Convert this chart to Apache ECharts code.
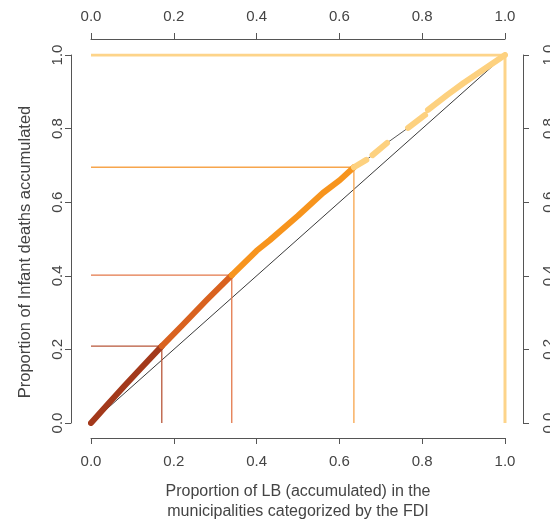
<!DOCTYPE html>
<html>
<head>
<meta charset="utf-8">
<script src="https://cdn.jsdelivr.net/npm/echarts@6/dist/echarts.min.js"></script>
<style>
html,body{margin:0;padding:0;background:#fff;}
#chart{width:550px;height:523px;}
</style>
</head>
<body>
<div id="chart"></div>
<script>
// ---- data ----
const fdiGroups = ['G1', 'G2', 'G3', 'G4'];
const groupColors = ['#a3391b', '#d9621f', '#f7941d', '#fdd17f'];
const refColors = ['#b8573a', '#e3784a', '#f7a54c', '#fdd48a'];
const groupEndX = [0.171, 0.340, 0.635, 1.0];
const groupEndY = [0.209, 0.402, 0.695, 1.0];
const curveX = [0, 0.04, 0.08, 0.12, 0.171, 0.22, 0.28, 0.34, 0.40, 0.432, 0.50, 0.56, 0.601, 0.635, 0.665, 0.68, 0.715, 0.766, 0.807, 0.814, 0.86, 0.90, 0.95, 1.0];
const curveY = [0, 0.050, 0.100, 0.148, 0.209, 0.265, 0.335, 0.402, 0.468, 0.497, 0.563, 0.625, 0.660, 0.695, 0.715, 0.728, 0.761, 0.802, 0.837, 0.851, 0.891, 0.924, 0.962, 1.0];
const curveGroup = [1, 1, 1, 1, 1, 2, 2, 2, 3, 3, 3, 3, 3, 3, 4, 4, 4, 4, 4, 4, 4, 4, 4, 4];
const curveGap = [0, 0, 0, 0, 0, 0, 0, 0, 0, 0, 0, 0, 0, 0, 0, 1, 0, 1, 0, 1, 0, 0, 0, 0];
const xTitle = ['Proportion of LB (accumulated) in the', 'municipalities categorized by the FDI'];
const yTitle = 'Proportion of Infant deaths accumulated';

// ---- build ----
const series = [];
series.push({
  type: 'line', data: [[0, 0], [1, 1]], symbol: 'none', silent: true, z: 2,
  lineStyle: { color: '#3a3a3a', width: 1 }
});
fdiGroups.forEach((g, k) => {
  series.push({
    type: 'line', symbol: 'none', silent: true, z: 3,
    data: [[0, groupEndY[k]], [groupEndX[k], groupEndY[k]], [groupEndX[k], 0]],
    lineStyle: { color: refColors[k], width: k === 3 ? 3 : 1.3 }
  });
});
series.push({
  type: 'line', symbol: 'none', silent: true, z: 4,
  data: curveX.map((x, i) => [x, curveY[i]]),
  lineStyle: { color: '#555', width: 1 }
});
fdiGroups.forEach((g, k) => {
  const data = [];
  curveX.forEach((x, i) => {
    const grp = curveGroup[i];
    const isStart = (i + 1 < curveX.length && curveGroup[i + 1] === k + 1 && grp === k);
    if (grp === k + 1 || isStart) {
      if (curveGap[i] && grp === k + 1) data.push(null);
      data.push([x, curveY[i]]);
    }
  });
  series.push({
    type: 'line', symbol: 'none', silent: true, z: 5, connectNulls: false,
    data: data,
    lineStyle: { color: groupColors[k], width: 6, cap: 'round', join: 'round' }
  });
});

const FONT = 'Liberation Sans, Arial, sans-serif';
const axisCommon = {
  type: 'value', min: 0, max: 1, interval: 0.2,
  splitLine: { show: false },
  axisLine: { show: true, onZero: false, lineStyle: { color: '#555', width: 1 } },
  axisTick: { show: true, length: 6, inside: false, lineStyle: { color: '#555', width: 1 } },
};
const labelCommon = {
  color: '#444', fontSize: 15, fontFamily: FONT,
  formatter: v => v.toFixed(1)
};

const chart = echarts.init(document.getElementById('chart'), null, { renderer: 'canvas' });
chart.setOption({
  animation: false,
  backgroundColor: '#fff',
  grid: { left: 91, right: 45, top: 55, bottom: 100, containLabel: false, outerBoundsMode: 'none' },
  xAxis: [
    Object.assign({}, axisCommon, { position: 'bottom', offset: 15,
      axisLabel: Object.assign({}, labelCommon, { margin: 16 }) }),
    Object.assign({}, axisCommon, { position: 'top', offset: 16,
      axisLabel: Object.assign({}, labelCommon, { margin: 15 }) })
  ],
  yAxis: [
    Object.assign({}, axisCommon, { position: 'left', offset: 20,
      axisLabel: Object.assign({}, labelCommon, { margin: 6, rotate: 90 }) }),
    Object.assign({}, axisCommon, { position: 'right', offset: 18,
      axisLabel: Object.assign({}, labelCommon, { margin: 18, rotate: 90 }) })
  ],
  graphic: [
    { type: 'text', x: 298, y: 492, style: { text: xTitle[0], textAlign: 'center', textVerticalAlign: 'middle', fill: '#444', fontSize: 16, fontFamily: FONT } },
    { type: 'text', x: 298, y: 512, style: { text: xTitle[1], textAlign: 'center', textVerticalAlign: 'middle', fill: '#444', fontSize: 16, fontFamily: FONT } },
    { type: 'text', x: 25, y: 252, rotation: Math.PI / 2, style: { text: yTitle, textAlign: 'center', textVerticalAlign: 'middle', fill: '#444', fontSize: 16.5, fontFamily: FONT } }
  ],
  series: series
});
</script>
</body>
</html>
